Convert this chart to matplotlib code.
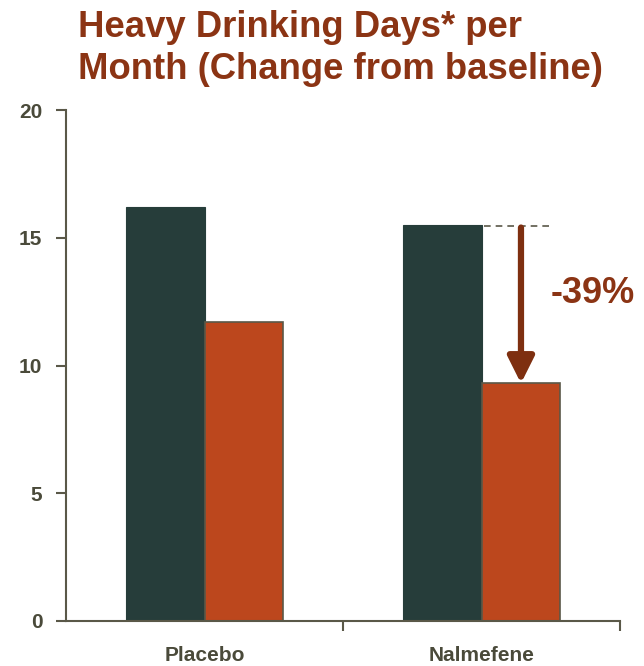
import matplotlib
matplotlib.use("Agg")
import matplotlib.pyplot as plt
import numpy as np

categories = ["Placebo", "Nalmefene"]
baseline = [16.2, 15.5]
treatment = [11.7, 9.3]
change_label = "-39%"

plt.rcParams['font.family'] = ['Liberation Sans', 'DejaVu Sans']

dark = "#263d3a"
orange = "#bc471d"
brown = "#8b3414"
axis_col = "#5a5848"
text_col = "#4a4a3a"

fig = plt.figure(figsize=(6.44, 6.66), dpi=100)
ax = fig.add_axes([66 / 644, 45 / 666, 554 / 644, 511 / 666])

x = np.arange(len(categories))
w = 0.285
ax.bar(x - w / 2, baseline, width=w, color=dark, edgecolor=dark, linewidth=0.8, zorder=2)
ax.bar(x + w / 2, treatment, width=w, color=orange, edgecolor=axis_col, linewidth=1.2, zorder=2)

ax.set_xlim(-0.5, 1.5)
ax.set_ylim(0, 20)
ax.set_yticks([0, 5, 10, 15, 20])
ax.set_xticks(x)
ax.set_xticklabels(categories, fontsize=15, fontweight='bold', color=text_col)
ax.set_xticks([0.5, 1.5], minor=True)
ax.tick_params(axis='x', which='major', length=0, pad=18)
ax.tick_params(axis='x', which='minor', length=7, width=1.5, color=axis_col, direction='out')
ax.tick_params(axis='y', length=7, width=1.5, color=axis_col, direction='out', labelsize=15, labelcolor=text_col, pad=10)
for lbl in ax.get_yticklabels():
    lbl.set_fontweight('bold')

for s in ['top', 'right']:
    ax.spines[s].set_visible(False)
for s in ['left', 'bottom']:
    ax.spines[s].set_color(axis_col)
    ax.spines[s].set_linewidth(1.5)

# annotation on Nalmefene
xi = 1
ax.plot([xi + 0.01, xi + 0.26], [baseline[xi] - 0.05, baseline[xi] - 0.05], linestyle=(0, (4, 3)),
        color=axis_col, linewidth=1.2, zorder=3)
ax.annotate("", xy=(xi + w / 2, treatment[xi]), xytext=(xi + w / 2, baseline[xi] - 0.1),
            arrowprops=dict(arrowstyle="-|>,head_length=1.6,head_width=0.8", color="#7e2f10", lw=4.5,
                            shrinkA=0, shrinkB=0), zorder=4)
ax.text(xi + 0.25, 12.82, change_label, fontsize=26, fontweight='bold', color=brown, ha='left', va='center')

fig.text(78 / 644, 1 - 10 / 666, "Heavy Drinking Days* per\nMonth (Change from baseline)", fontsize=26.3,
         fontweight='bold', color=brown, ha='left', va='top', linespacing=1.25)

fig.savefig("out.png", dpi=100)
